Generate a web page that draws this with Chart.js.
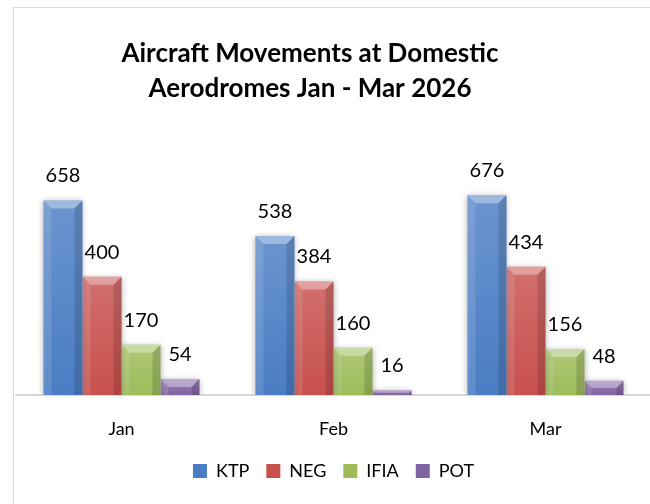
<!DOCTYPE html>
<html>
<head>
<meta charset="utf-8">
<script src="https://cdn.jsdelivr.net/npm/chart.js@4.4.1/dist/chart.umd.min.js"></script>
<style>
  html, body { margin: 0; padding: 0; background: #fff; overflow: hidden; width: 650px; height: 504px; }
  #frame { position: absolute; left: 13px; top: 7px; width: 646px; height: 497px;
           border-left: 1px solid #d9d9d9; border-top: 1px solid #d9d9d9; }
  #wrap { position: relative; width: 646px; height: 496px; }
</style>
</head>
<body>
<div id="frame"><div id="wrap"><canvas id="chart"></canvas></div></div>
<script>
const months = ["Jan", "Feb", "Mar"];
const seriesNames = ["KTP", "NEG", "IFIA", "POT"];
const ktp = [658, 538, 676];
const neg = [400, 384, 434];
const ifia = [170, 160, 156];
const pot = [54, 16, 48];
const titleLines = ["Aircraft Movements at Domestic", "Aerodromes Jan - Mar 2026"];

const colors = ["#4a7dc4", "#c8504d", "#9dbc59", "#8064a2"];
const values = [ktp, neg, ifia, pot];

// title sits left of centre in the original, so draw it by hand
const titlePlugin = {
  id: "titleText",
  afterDraw(chart) {
    const c = chart.ctx;
    c.save();
    c.font = "bold 26px Lato";
    c.fillStyle = "#000";
    c.textAlign = "center";
    c.textBaseline = "alphabetic";
    c.fillText(titleLines[0], 296, 54);
    c.fillText(titleLines[1], 296, 89);
    c.restore();
  }
};

// fake excel bevel + value labels
const bevelPlugin = {
  id: "bevel",
  beforeDatasetDraw(chart) {
    const c = chart.ctx;
    c.save();
    c.shadowColor = "rgba(0,0,0,0.3)";
    c.shadowBlur = 6;
    c.shadowOffsetY = 1;
  },
  afterDatasetDraw(chart) {
    chart.ctx.restore();
  },
  afterDatasetsDraw(chart) {
    const c = chart.ctx;
    chart.data.datasets.forEach((ds, i) => {
      chart.getDatasetMeta(i).data.forEach((bar, j) => {
        const l = bar.x - bar.width / 2, r = bar.x + bar.width / 2;
        const t = bar.y, b = bar.base;
        const d = Math.min(8, (b - t) / 2, bar.width / 4);
        c.save();
        const g = c.createLinearGradient(0, t, 0, b);
        g.addColorStop(0, "rgba(255,255,255,0.18)");
        g.addColorStop(1, "rgba(255,255,255,0)");
        c.fillStyle = g;
        c.fillRect(l, t, r - l, b - t);
        c.fillStyle = "rgba(255,255,255,0.35)";
        c.beginPath();
        c.moveTo(l, t); c.lineTo(r, t); c.lineTo(r - d, t + d); c.lineTo(l + d, t + d);
        c.closePath(); c.fill();
        c.fillStyle = "rgba(255,255,255,0.12)";
        c.beginPath();
        c.moveTo(l, t); c.lineTo(l + d, t + d); c.lineTo(l + d, b); c.lineTo(l, b);
        c.closePath(); c.fill();
        c.fillStyle = "rgba(0,0,0,0.14)";
        c.beginPath();
        c.moveTo(r, t); c.lineTo(r, b); c.lineTo(r - d, b); c.lineTo(r - d, t + d);
        c.closePath(); c.fill();
        c.fillStyle = "#000";
        c.font = "20px Lato";
        c.textAlign = "center";
        c.textBaseline = "alphabetic";
        c.fillText(String(ds.data[j]), bar.x, t - 18);
        c.restore();
      });
    });
  }
};

new Chart(document.getElementById("chart"), {
  type: "bar",
  data: {
    labels: months,
    datasets: seriesNames.map((name, i) => ({
      label: name,
      data: values[i],
      backgroundColor: colors[i],
      borderWidth: 0,
      categoryPercentage: 0.736,
      barPercentage: 1.0
    }))
  },
  options: {
    responsive: true,
    maintainAspectRatio: false,
    animation: false,
    layout: { padding: { top: 150.5, left: 1.5, right: 8.5, bottom: 14 } },
    plugins: {
      title: { display: false },
      tooltip: { enabled: false },
      legend: {
        position: "bottom",
        labels: { color: "#000", font: { family: "Lato", size: 18 }, boxWidth: 14, boxHeight: 14, padding: 17 }
      }
    },
    scales: {
      x: {
        grid: { display: false, drawTicks: false },
        border: { display: true, color: "#d9d9d9", width: 2 },
        ticks: { color: "#000", font: { family: "Lato", size: 18 }, padding: 23 },
        afterFit(scale) { scale.height = 50; }
      },
      y: { display: false, min: 0, max: 800 }
    }
  },
  plugins: [titlePlugin, bevelPlugin]
});
</script>
</body>
</html>
